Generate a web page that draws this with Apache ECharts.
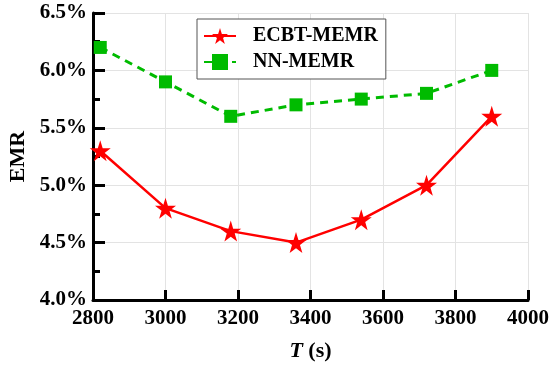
<!DOCTYPE html>
<html><head><meta charset="utf-8">
<script src="https://cdn.jsdelivr.net/npm/echarts@6/dist/echarts.min.js"></script>
<style>html,body{margin:0;padding:0;background:#fff}#c{width:550px;height:371px}</style>
</head><body><div id="c"></div>
<script>
const xValues = [2820, 3000, 3180, 3360, 3540, 3720, 3900];
const ecbtValues = [5.3, 4.8, 4.6, 4.5, 4.7, 5.0, 5.6];
const nnValues = [6.2, 5.9, 5.6, 5.7, 5.75, 5.8, 6.0];
const seriesNames = ['ECBT-MEMR', 'NN-MEMR'];

const starPath = 'path://M50,0 L61.2,35.4 L98.5,35.4 L68.4,57.3 L79.4,92.7 L50,70.8 L20.6,92.7 L31.6,57.3 L1.5,35.4 L38.8,35.4 Z';
const font = 'Liberation Serif';
const chart = echarts.init(document.getElementById('c'));
chart.setOption({
  animation: false,
  grid: {left: 93, right: 22, top: 13, bottom: 71, containLabel: false, outerBoundsMode: 'none'},
  legend: {
    orient: 'vertical', left: 197, top: 19,
    padding: [7, 8, 7, 6], itemGap: 6, itemWidth: 32, itemHeight: 20,
    borderColor: '#555', borderWidth: 1, backgroundColor: '#fff',
    textStyle: {fontFamily: font, fontWeight: 'bold', fontSize: 20, color: '#000', padding: [0, 0, 0, 12]},
    data: seriesNames
  },
  xAxis: {
    type: 'value', min: 2800, max: 4000, interval: 200,
    name: '{i|T} (s)', nameLocation: 'middle', nameGap: 40,
    nameTextStyle: {fontFamily: font, fontWeight: 'bold', fontSize: 22, color: '#000',
      rich: {i: {fontFamily: font, fontWeight: 'bold', fontStyle: 'italic', fontSize: 22, color: '#000'}}},
    axisLine: {show: true, lineStyle: {color: '#000', width: 3}},
    axisTick: {show: true, inside: true, length: 10, lineStyle: {color: '#000', width: 3}},
    axisLabel: {fontFamily: font, fontWeight: 'bold', fontSize: 21, color: '#000', margin: 8,
      formatter: v => String(v)},
    splitLine: {show: true, lineStyle: {color: '#e3e3e3', width: 1}}
  },
  yAxis: {
    type: 'value', min: 4.0, max: 6.5, interval: 0.5,
    name: 'EMR', nameLocation: 'middle', nameGap: 63, nameRotate: 90,
    nameTextStyle: {fontFamily: font, fontWeight: 'bold', fontSize: 22, color: '#000'},
    axisLine: {show: true, lineStyle: {color: '#000', width: 3}},
    axisTick: {show: true, inside: true, length: 12, lineStyle: {color: '#000', width: 3}},
    minorTick: {show: true, splitNumber: 2, length: 7, lineStyle: {color: '#000', width: 3}},
    axisLabel: {fontFamily: font, fontWeight: 'bold', fontSize: 21, color: '#000', margin: 6,
      formatter: v => v.toFixed(1) + '%'},
    splitLine: {show: true, lineStyle: {color: '#e3e3e3', width: 1}}
  },
  series: [
    {
      name: seriesNames[0], type: 'line',
      data: xValues.map((x, i) => [x, ecbtValues[i]]),
      symbol: starPath, symbolSize: 21, showAllSymbol: true,
      itemStyle: {color: '#ff0000'},
      lineStyle: {color: '#ff0000', width: 2.5}
    },
    {
      name: seriesNames[1], type: 'line',
      data: xValues.map((x, i) => [x, nnValues[i]]),
      symbol: 'rect', symbolSize: 13, showAllSymbol: true,
      itemStyle: {color: '#00bb00'},
      lineStyle: {color: '#00bb00', width: 3, type: [8, 6]}
    }
  ]
});
</script></body></html>
